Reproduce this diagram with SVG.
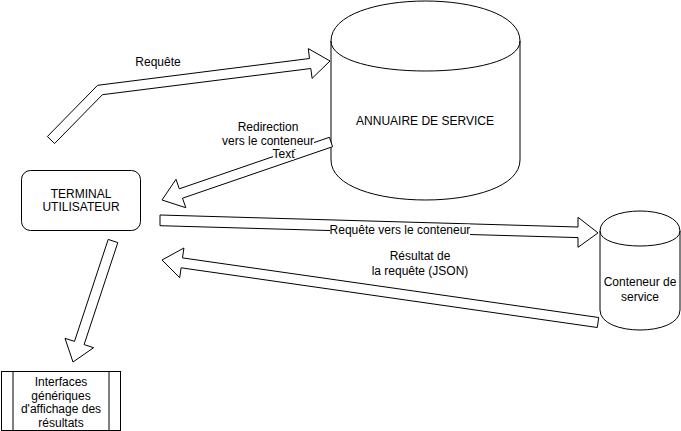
<svg xmlns="http://www.w3.org/2000/svg" width="681" height="431" viewBox="0 0 681 431">
  <style>
    .shape { fill: #ffffff; stroke: #000000; stroke-width: 1; }
    .line { fill: none; stroke: #000000; stroke-width: 1; }
    .arrow { fill: #ffffff; stroke: #000000; stroke-width: 1; stroke-linejoin: miter; stroke-miterlimit: 10; }
    .lblbg { fill: #ffffff; stroke: none; }
    text { font-family: "Liberation Sans", Arial, Helvetica, sans-serif; font-size: 12px; fill: #000000; text-anchor: middle; }
  </style>
  <rect x="0" y="0" width="681" height="431" fill="#ffffff"/>

  <g id="annuaire">
    <path class="shape" d="M331,41 C331,-12.33 520,-12.33 520,41 L520,160 C520,213.33 331,213.33 331,160 Z"/>
    <path class="line" d="M331,41 C331,81 520,81 520,41"/>
    <text x="425" y="124.5">ANNUAIRE DE SERVICE</text>
  </g>

  <g id="terminal">
    <rect class="shape" x="21.5" y="170.5" width="119" height="60" rx="9" ry="9"/>
    <text x="81" y="197.5">TERMINAL</text>
    <text x="81" y="211">UTILISATEUR</text>
  </g>

  <g id="conteneur">
    <path class="shape" d="M600,231 C600,204.33 680,204.33 680,231 L680,310 C680,336.67 600,336.67 600,310 Z"/>
    <path class="line" d="M600,231 C600,251 680,251 680,231"/>
    <text x="640" y="286">Conteneur de</text>
    <text x="640" y="301">service</text>
  </g>

  <g id="interfaces">
    <rect class="shape" x="1.5" y="371.5" width="119" height="59"/>
    <line class="line" x1="13" y1="371.5" x2="13" y2="430.5"/>
    <line class="line" x1="109" y1="371.5" x2="109" y2="430.5"/>
    <text x="61" y="386">Interfaces</text>
    <text x="61" y="399.5">génériques</text>
    <text x="61" y="413">d'affichage des</text>
    <text x="61" y="426.5">résultats</text>
  </g>

  <g id="connectors">
    <polygon class="arrow" points="47.4,136.5 97.6,85.3 309.5,58.5 308.3,48.6 330,61 312.1,78.4 310.8,68.5 102.4,94.7 54.6,143.5"/>
    <text x="158" y="66">Requête</text>

    <polygon class="arrow" points="329.4,137.3 179.3,188.8 176,179.3 162,200 185.8,207.7 182.5,198.2 332.6,146.7"/>
    <rect class="lblbg" x="221" y="119" width="93" height="30"/>
    <text x="268" y="131">Redirection</text>
    <text x="268" y="145">vers le conteneur</text>
    <rect class="lblbg" x="273" y="147" width="21" height="12.5"/>
    <text x="283.5" y="158.3">Text</text>

    <polygon class="arrow" points="160,215 578,227 578,217.3 598,232.9 578,247.3 578,237.6 160,225.7"/>
    <rect class="lblbg" x="330" y="224.5" width="140" height="12"/>
    <text x="400" y="234">Requête vers le conteneur</text>

    <polygon class="arrow" points="598.7,317.5 182.5,257.9 183.9,248 162,260 179.7,277.7 181.1,267.8 597.3,327.5"/>
    <text x="420" y="260">Résultat de</text>
    <text x="420" y="275">la requête (JSON)</text>

    <polygon class="arrow" points="108.2,239.4 74.5,341.4 65,338.3 73,362 93.6,347.7 84.1,344.6 117.8,242.6"/>
  </g>
</svg>
